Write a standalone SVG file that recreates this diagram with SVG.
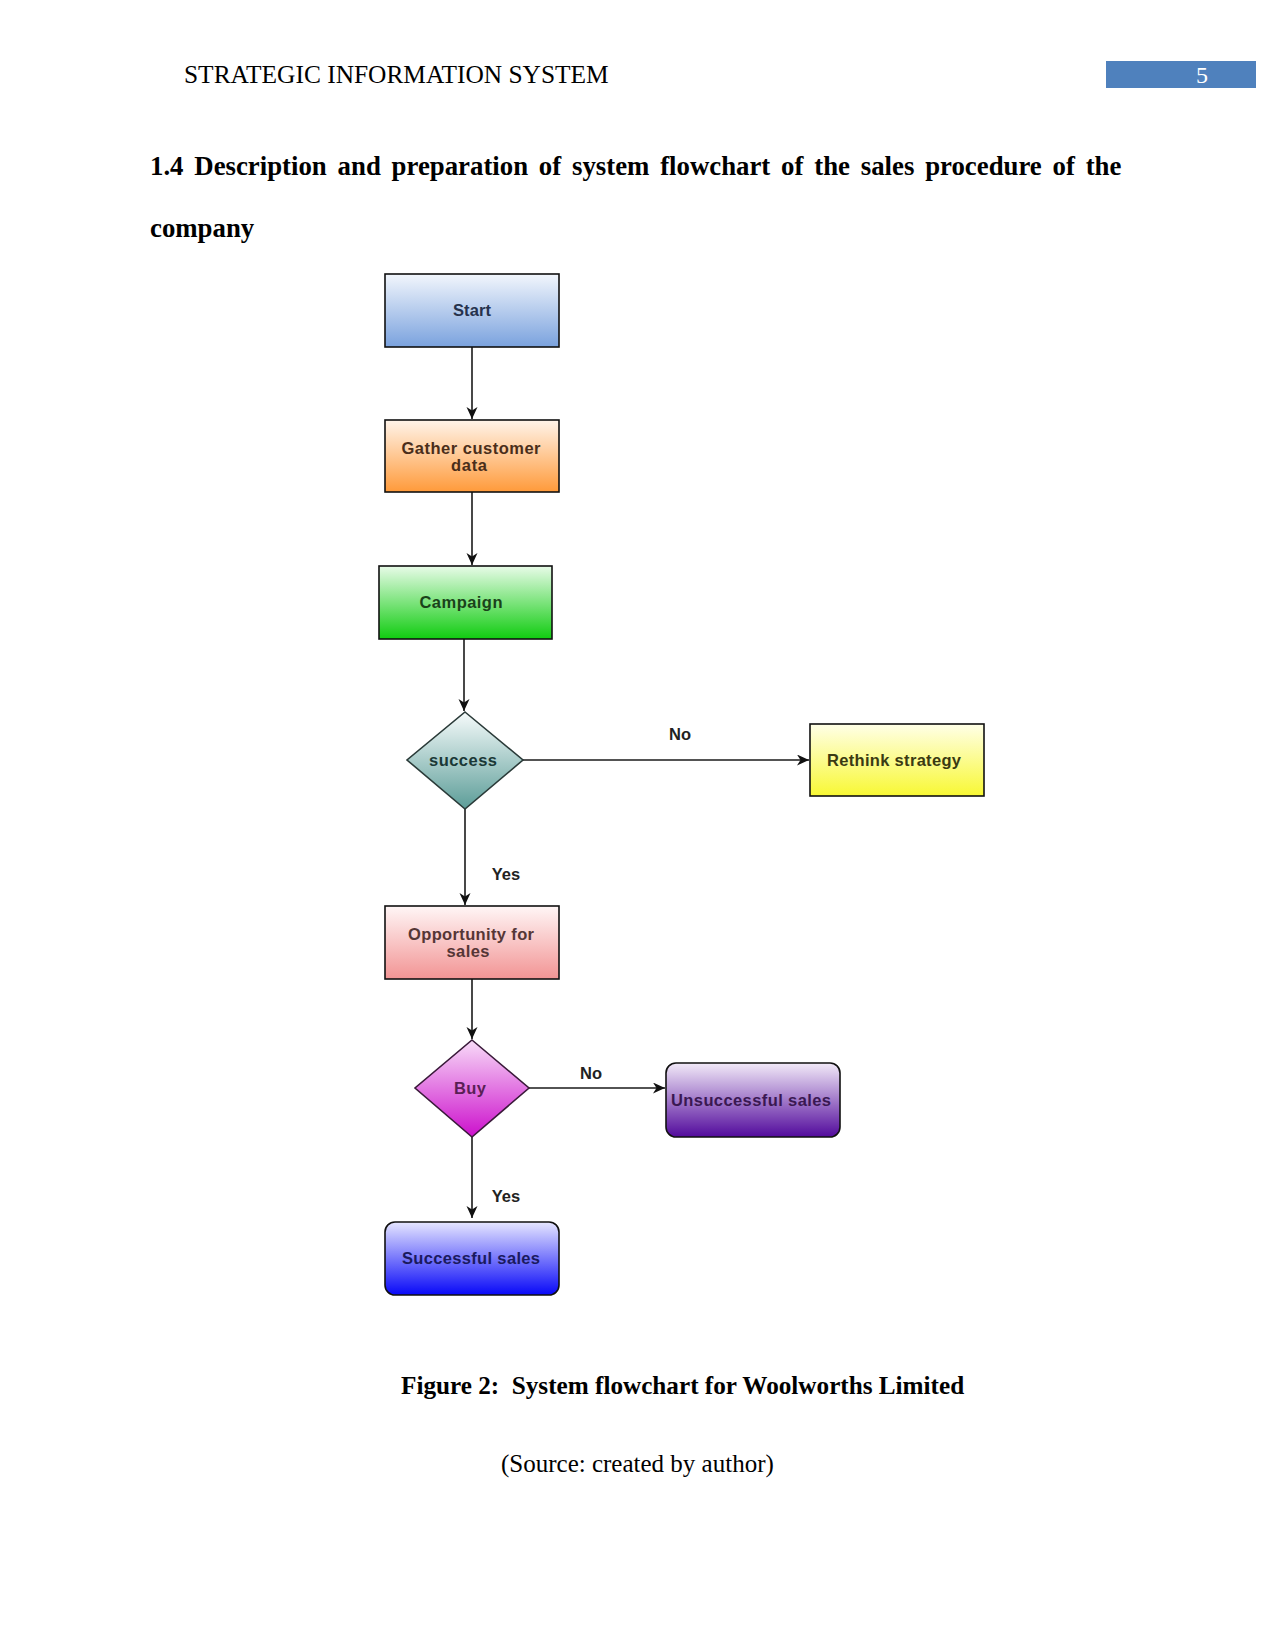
<svg xmlns="http://www.w3.org/2000/svg" width="1275" height="1650" viewBox="0 0 1275 1650">
<style>
.serif{font-family:"Liberation Serif","Times New Roman",serif;fill:#000}
.lbl{font-family:"Liberation Sans",Arial,sans-serif;font-weight:bold;font-size:16.5px;text-anchor:middle}
.edge{font-family:"Liberation Sans",Arial,sans-serif;font-weight:bold;font-size:16.5px;fill:#222;text-anchor:middle}
.box{stroke:#111;stroke-width:1.6}
.conn{fill:none;stroke:#1a1a1a;stroke-width:1.6}
</style>
<defs>
<marker id="arr" markerUnits="userSpaceOnUse" markerWidth="13" markerHeight="12" refX="12" refY="5.5" orient="auto">
<path d="M0,0 L12,5.5 L0,11 L3.5,5.5 z" fill="#111"/>
</marker>
<linearGradient id="gStart" x1="0" y1="0" x2="0" y2="1"><stop offset="0" stop-color="#f2f6fc"/><stop offset="1" stop-color="#7aa2de"/></linearGradient>
<linearGradient id="gGather" x1="0" y1="0" x2="0" y2="1"><stop offset="0" stop-color="#fff4ea"/><stop offset="1" stop-color="#ff9a3a"/></linearGradient>
<linearGradient id="gCamp" x1="0" y1="0" x2="0" y2="1"><stop offset="0" stop-color="#e8fbe8"/><stop offset="1" stop-color="#10cc10"/></linearGradient>
<linearGradient id="gSucc" x1="0" y1="0" x2="0" y2="1"><stop offset="0" stop-color="#f6fbfb"/><stop offset="1" stop-color="#5c9d98"/></linearGradient>
<linearGradient id="gRethink" x1="0" y1="0" x2="0" y2="1"><stop offset="0" stop-color="#ffffe8"/><stop offset="1" stop-color="#f8f834"/></linearGradient>
<linearGradient id="gOpp" x1="0" y1="0" x2="0" y2="1"><stop offset="0" stop-color="#fff6f6"/><stop offset="1" stop-color="#f29494"/></linearGradient>
<linearGradient id="gBuy" x1="0" y1="0" x2="0" y2="1"><stop offset="0" stop-color="#f8dcf8"/><stop offset="1" stop-color="#cc10cc"/></linearGradient>
<linearGradient id="gUns" x1="0" y1="0" x2="0" y2="1"><stop offset="0" stop-color="#f2eaf8"/><stop offset="1" stop-color="#520a9c"/></linearGradient>
<linearGradient id="gSs" x1="0" y1="0" x2="0" y2="1"><stop offset="0" stop-color="#e6e6ff"/><stop offset="1" stop-color="#0808f8"/></linearGradient>
</defs>
<rect width="1275" height="1650" fill="#fff"/>

<g id="header">
<text class="serif" x="184" y="83" font-size="25.4">STRATEGIC INFORMATION SYSTEM</text>
<rect x="1106" y="61" width="150" height="27" fill="#4f81bd"/>
<text class="serif" x="1202" y="83" font-size="24" text-anchor="middle" style="fill:#fff">5</text>
</g>

<g id="heading">
<text class="serif" x="150" y="175" font-size="26.8" font-weight="bold" word-spacing="4.1">1.4 Description and preparation of system flowchart of the sales procedure of the</text>
<text class="serif" x="150" y="237" font-size="26.8" font-weight="bold">company</text>
</g>

<g id="connectors">
<path class="conn" d="M472,347 V419" marker-end="url(#arr)"/>
<path class="conn" d="M472,492 V565" marker-end="url(#arr)"/>
<path class="conn" d="M464,639 V711" marker-end="url(#arr)"/>
<path class="conn" d="M523,760 H809" marker-end="url(#arr)"/>
<path class="conn" d="M465,809 V905" marker-end="url(#arr)"/>
<path class="conn" d="M472,979 V1039" marker-end="url(#arr)"/>
<path class="conn" d="M529,1088 H665" marker-end="url(#arr)"/>
<path class="conn" d="M472,1137 V1218" marker-end="url(#arr)"/>
<text class="edge" x="680" y="740">No</text>
<text class="edge" x="506" y="880">Yes</text>
<text class="edge" x="591" y="1079">No</text>
<text class="edge" x="506" y="1202">Yes</text>
</g>

<g id="start">
<rect class="box" x="385" y="274" width="174" height="73" fill="url(#gStart)"/>
<text class="lbl" x="472" y="316" fill="#26324d" textLength="38">Start</text>
</g>
<g id="gather">
<rect class="box" x="385" y="420" width="174" height="72" fill="url(#gGather)"/>
<text class="lbl" x="471" y="454" fill="#4a2e1a" textLength="139">Gather customer</text>
<text class="lbl" x="469" y="471" fill="#4a2e1a" textLength="36">data</text>
</g>
<g id="campaign">
<rect class="box" x="379" y="566" width="173" height="73" fill="url(#gCamp)"/>
<text class="lbl" x="461" y="608" fill="#1a421a" textLength="83">Campaign</text>
</g>
<g id="success">
<polygon class="box" points="465,712 523,760 465,809 407,760" fill="url(#gSucc)" style="stroke:#2a3a38"/>
<text class="lbl" x="463" y="766" fill="#1a3836" textLength="68">success</text>
</g>
<g id="rethink">
<rect class="box" x="810" y="724" width="174" height="72" fill="url(#gRethink)"/>
<text class="lbl" x="894" y="766" fill="#3a3a12" textLength="134">Rethink strategy</text>
</g>
<g id="opportunity">
<rect class="box" x="385" y="906" width="174" height="73" fill="url(#gOpp)"/>
<text class="lbl" x="471" y="940" fill="#553636" textLength="126">Opportunity for</text>
<text class="lbl" x="468" y="957" fill="#553636" textLength="43">sales</text>
</g>
<g id="buy">
<polygon class="box" points="472,1040 529,1088 472,1137 415,1088" fill="url(#gBuy)" style="stroke:#3a1a3a"/>
<text class="lbl" x="470" y="1094" fill="#5a1f55" textLength="32">Buy</text>
</g>
<g id="unsuccessful">
<rect class="box" x="666" y="1063" width="174" height="74" rx="10" ry="10" fill="url(#gUns)"/>
<text class="lbl" x="751" y="1106" fill="#3a1852" textLength="160">Unsuccessful sales</text>
</g>
<g id="successful">
<rect class="box" x="385" y="1222" width="174" height="73" rx="10" ry="10" fill="url(#gSs)"/>
<text class="lbl" x="471" y="1264" fill="#1a1a5e" textLength="138">Successful sales</text>
</g>

<g id="caption">
<text class="serif" x="401" y="1394" font-size="25.2" font-weight="bold" xml:space="preserve">Figure 2:  System flowchart for Woolworths Limited</text>
<text class="serif" x="501" y="1472" font-size="25">(Source: created by author)</text>
</g>
</svg>
